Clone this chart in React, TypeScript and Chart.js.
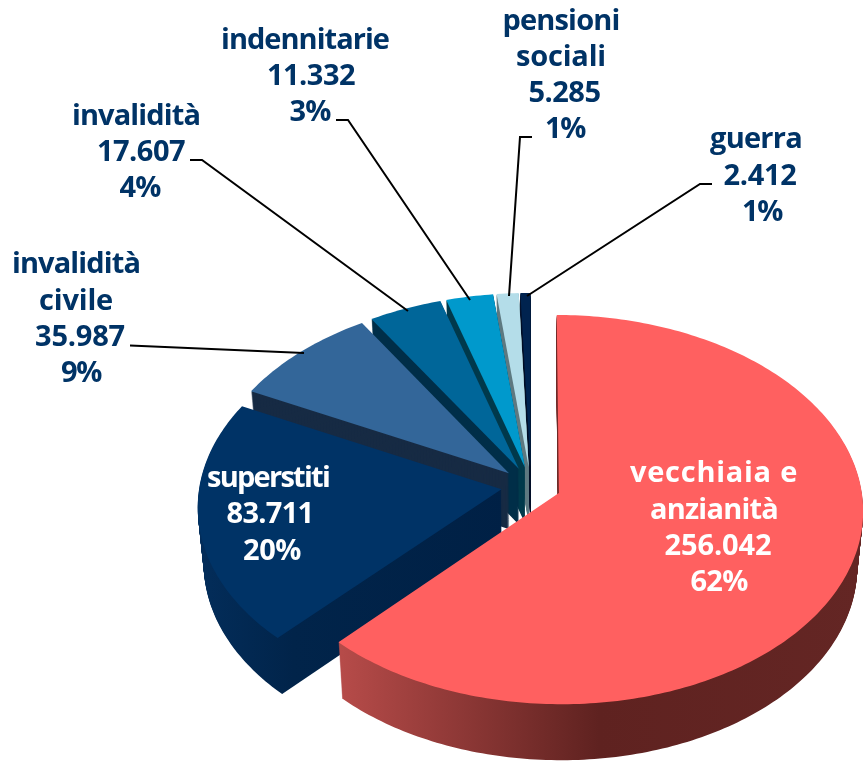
import React, { useEffect, useRef } from "react";
import { Chart, registerables } from "chart.js";

Chart.register(...registerables);

const categories = ["vecchiaia e anzianità", "superstiti", "invalidità civile", "invalidità", "indennitarie", "pensioni sociali", "guerra"];
const values = [256042, 83711, 35987, 17607, 11332, 5285, 2412];
const valueLabels = ["256.042", "83.711", "35.987", "17.607", "11.332", "5.285", "2.412"];
const percentLabels = ["62%", "20%", "9%", "4%", "3%", "1%", "1%"];
const topColors = ["#ff6060", "#003366", "#336699", "#006699", "#0099cc", "#b4dde9", "#00234f"];
const wallColors = ["#632523", "#02274e", "#172b44", "#002e48", "#003a4c", "#5f7a82", "#00122a"];

const FONT = "700 29px 'Open Sans'";
const NAVY = "#003366";
const labelBlocks: { lines: string[]; xs: number[]; ys: number[]; ws: number[]; color: string }[] = [
  { lines: ["vecchiaia e", "anzianità", valueLabels[0], percentLabels[0]], xs: [714, 714, 718, 719], ys: [482, 519, 555, 591], ws: [168, 128, 107, 57], color: "#ffffff" },
  { lines: ["superstiti", valueLabels[1], percentLabels[1]], xs: [268, 270, 272], ys: [487, 523, 560], ws: [122, 87, 58], color: "#ffffff" },
  { lines: ["invalidità", "civile", valueLabels[2], percentLabels[2]], xs: [76, 76, 80, 81], ys: [273, 310, 346, 382], ws: [128, 74, 90, 40], color: NAVY },
  { lines: ["invalidità", valueLabels[3], percentLabels[3]], xs: [136, 141, 140], ys: [125, 161, 197], ws: [128, 88, 41], color: NAVY },
  { lines: ["indennitarie", valueLabels[4], percentLabels[4]], xs: [305, 311, 310], ys: [49, 85, 121], ws: [168, 88, 41], color: NAVY },
  { lines: ["pensioni", "sociali", valueLabels[5], percentLabels[5]], xs: [561, 561, 564.5, 565], ys: [30, 66, 102, 138], ws: [117, 90, 72, 40], color: NAVY },
  { lines: ["guerra", valueLabels[6], percentLabels[6]], xs: [756, 760, 762], ys: [148, 185, 221], ws: [92, 73, 40], color: NAVY },
];
const leaders: number[][][] = [
  [[130, 345.5], [304, 353]],
  [[190, 160], [202, 160], [408, 311]],
  [[336, 120], [348, 120], [470, 300]],
  [[532, 137], [520, 137], [509, 296]],
  [[712, 184], [700, 184], [527, 296]],
];

// Tilted-plane projection of the pie
const OX = 531, OY = 486, AX = 302, BY = 192, K = 0.0847, DEPTH = 56, NARROW = 0.018;
const project = (X: number, Y: number, z: number) => {
  const s = 1 / (1 - K * Y);
  const n = 1 - NARROW * (z / DEPTH);
  return [OX + AX * X * s * n, OY + BY * Y * s + z];
};

const slicePath = (ctx: CanvasRenderingContext2D, arc: any, z: number) => {
  const { startAngle, endAngle, outerRadius } = arc.getProps(["startAngle", "endAngle", "outerRadius"], true);
  const off = arc.options.offset / outerRadius;
  const mid = (startAngle + endAngle) / 2;
  const cx = Math.cos(mid) * off, cy = Math.sin(mid) * off;
  ctx.beginPath();
  const p0 = project(cx, cy, z);
  ctx.moveTo(p0[0], p0[1]);
  const steps = Math.max(4, Math.ceil((endAngle - startAngle) * 60));
  for (let i = 0; i <= steps; i++) {
    const a = startAngle + ((endAngle - startAngle) * i) / steps;
    const p = project(cx + Math.cos(a), cy + Math.sin(a), z);
    ctx.lineTo(p[0], p[1]);
  }
  ctx.closePath();
};

const pie3d = {
  id: "pie3d",
  beforeDatasetsDraw(chart: any) {
    const ctx: CanvasRenderingContext2D = chart.ctx;
    const arcs = chart.getDatasetMeta(0).data;
    ctx.save();
    for (let i = arcs.length - 1; i >= 0; i--) {
      let fill: string | CanvasGradient = wallColors[i];
      if (i === 0) {
        const g = ctx.createLinearGradient(335, 0, 863, 0);
        g.addColorStop(0, "#b84c4a");
        g.addColorStop(0.5, "#5f2220");
        g.addColorStop(1, "#642624");
        fill = g;
      } else if (i === 1) {
        const g = ctx.createLinearGradient(200, 0, 510, 0);
        g.addColorStop(0, "#032d5a");
        g.addColorStop(0.3, "#01244a");
        g.addColorStop(1, "#002045");
        fill = g;
      }
      ctx.fillStyle = fill;
      for (let z = DEPTH; z >= 1; z--) {
        slicePath(ctx, arcs[i], z);
        ctx.fill();
      }
    }
    arcs.forEach((arc: any, i: number) => {
      ctx.fillStyle = topColors[i];
      slicePath(ctx, arc, 0);
      ctx.fill();
    });
    ctx.restore();
    return false;
  },
  afterDraw(chart: any) {
    const ctx: any = chart.ctx;
    ctx.save();
    ctx.strokeStyle = "#000000";
    ctx.lineWidth = 2;
    leaders.forEach((pts) => {
      ctx.beginPath();
      pts.forEach((p, i) => (i ? ctx.lineTo(p[0], p[1]) : ctx.moveTo(p[0], p[1])));
      ctx.stroke();
    });
    ctx.font = FONT;
    ctx.textAlign = "center";
    ctx.textBaseline = "alphabetic";
    labelBlocks.forEach((b) => {
      ctx.fillStyle = b.color;
      b.lines.forEach((t, i) => {
        ctx.letterSpacing = "0px";
        const w = ctx.measureText(t).width;
        ctx.letterSpacing = ((b.ws[i] - w) / t.length).toFixed(2) + "px";
        ctx.fillText(t, b.xs[i], b.ys[i]);
      });
    });
    ctx.restore();
  },
};

export default function App() {
  const ref = useRef<HTMLCanvasElement>(null);
  useEffect(() => {
    document.body.style.margin = "0";
    const chart = new Chart(ref.current!, {
      type: "pie",
      data: {
        labels: categories,
        datasets: [{ data: values, backgroundColor: topColors, borderWidth: 0, offset: 36 }],
      },
      options: {
        responsive: false,
        animation: false,
        layout: { padding: 0 },
        plugins: { legend: { display: false }, tooltip: { enabled: false } },
      },
      plugins: [pie3d],
    } as any);
    return () => chart.destroy();
  }, []);
  return <canvas ref={ref} width={863} height={762} style={{ display: "block", width: 863, height: 762 }} />;
}
